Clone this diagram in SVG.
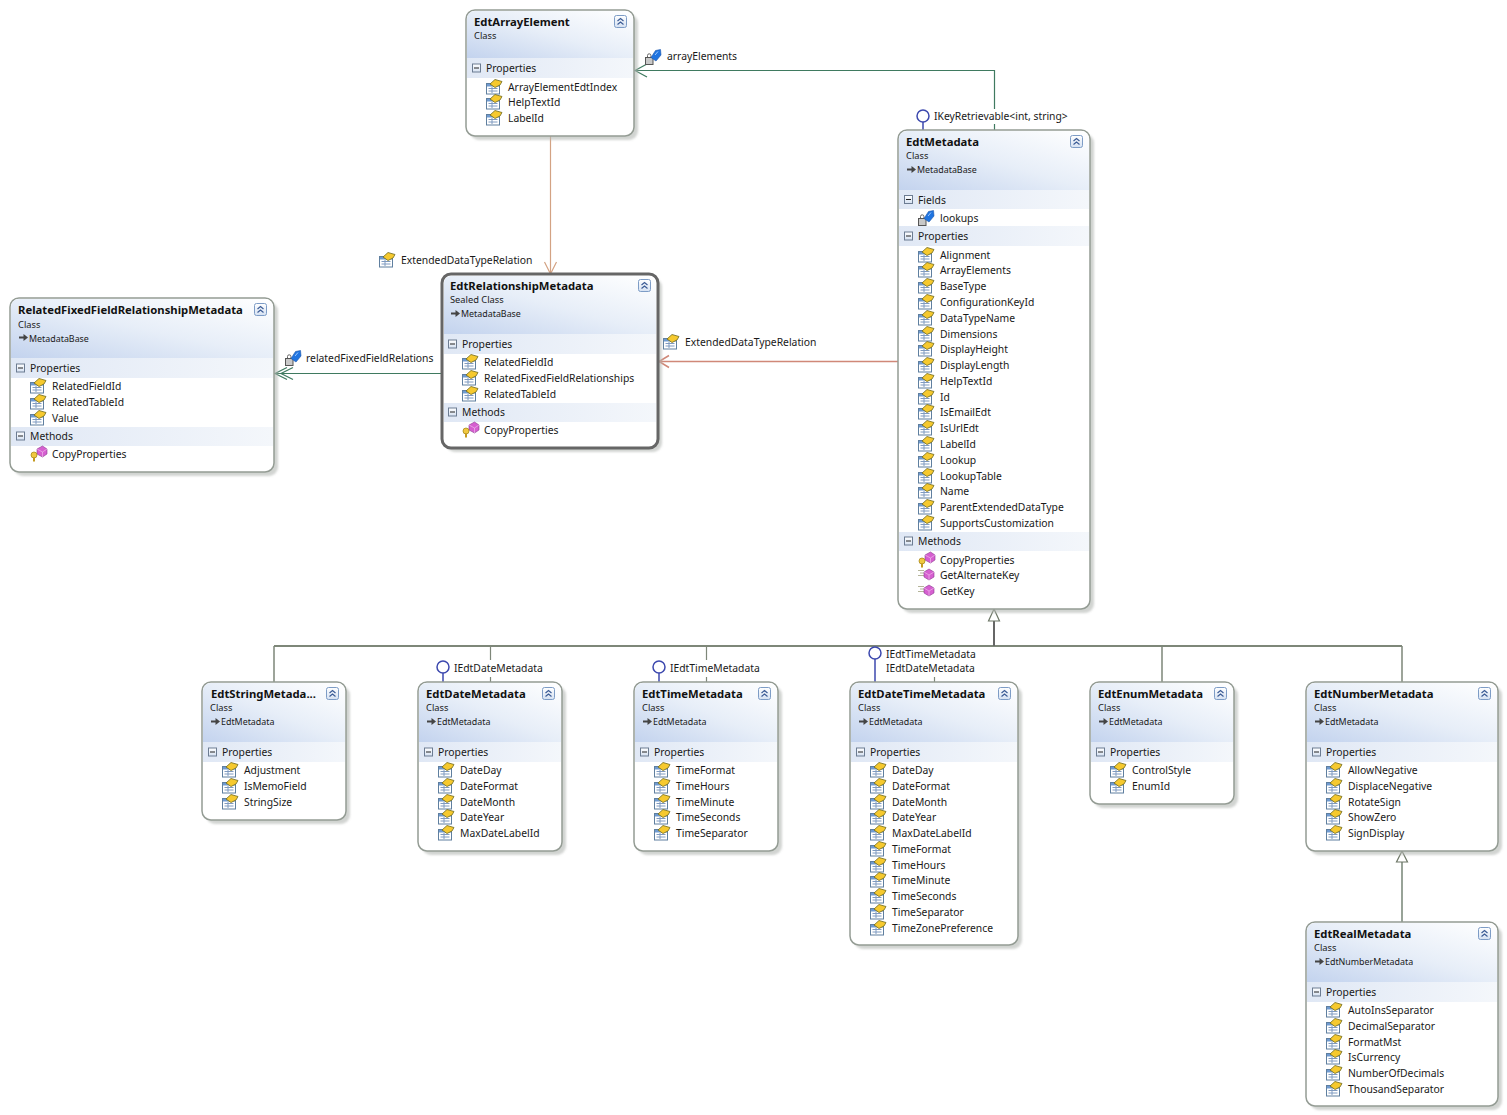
<svg xmlns="http://www.w3.org/2000/svg" width="1507" height="1115" viewBox="0 0 1507 1115">
<style>
text{font-family:"Noto Sans","DejaVu Sans",sans-serif;font-size:10.35px;fill:#1a1a1a}
.t{font-weight:700;font-size:11.3px;fill:#111}
.c{font-size:9.3px;transform:translateX(-1px)}
.b{font-size:8.9px}
.body{fill:#fff;stroke:#949c94;stroke-width:1.5}
.sel{fill:#fff;stroke:#666;stroke-width:3}
.sh{fill:#b4b8b4;opacity:.6;filter:url(#blur)}
.band{fill:url(#bg)}
.con{fill:none;stroke-width:1.2}
.gr{stroke:#3f7a60}.or{stroke:#d3a283}.sa{stroke:#d08878;stroke-width:1.5}.in{stroke:#7e8779}.lp{stroke:#3c48ae;fill:none}
.tri{fill:#fff;stroke:#6d7766;stroke-width:1.2}
</style>
<defs>
<filter id="blur" x="-5%" y="-5%" width="110%" height="110%"><feGaussianBlur stdDeviation="1"/></filter>
<linearGradient id="hg" x1="0" y1="1" x2="1" y2="0"><stop offset="0" stop-color="#c3d3ee"/><stop offset=".5" stop-color="#e7eef8"/><stop offset="1" stop-color="#fff"/></linearGradient>
<linearGradient id="bg" x1="0" y1="0" x2="1" y2="0"><stop offset="0" stop-color="#e0e8f5"/><stop offset="1" stop-color="#f4f7fb"/></linearGradient>
<linearGradient id="gb" x1="0" y1="0" x2="0" y2="1"><stop offset="0" stop-color="#fff"/><stop offset="1" stop-color="#d5e1f2"/></linearGradient>
<g id="p"><rect x=".5" y="4.500" width="13" height="10.500" fill="#fff" stroke="#5f7f9f"/><rect x="1" y="5" width="12" height="2.500" fill="#6f9ad0"/><path d="M2.500 9.500h9M2.500 12h9M6 8v6" stroke="#7f9ac0"/><path d="M4 5 9 .5l7 2-2 3.500-5 2.500z" fill="#f6c92e" stroke="#6f6a20" stroke-width=".8"/></g>
<g id="f"><rect x=".5" y="8.500" width="7.500" height="7" fill="#c8c8c8" stroke="#555"/><path d="M2.500 8V6.500a1.700 1.700 0 0 1 3.400 0V8" fill="none" stroke="#666"/><path d="M6 8.500 10.500 1.500 15.500.5 16 6 11 12z" fill="#1f74e0" stroke="#1c55a8" stroke-width=".6"/><path d="M10 6l3-3.500" stroke="#9cc8ff"/></g>
<g id="k"><path d="M7 3 12.500 0 17 3v5l-4.500 3L7 8z" fill="#d65fd0" stroke="#8a3a90" stroke-width=".6"/><path d="M7 3l5.500 3L17 3M12.500 6v5" fill="none" stroke="#f3c6f0" stroke-width=".6"/><circle cx="4" cy="9" r="3" fill="#f0c840" stroke="#a08010" stroke-width=".7"/><path d="M4 11.500v4" stroke="#c49a20" stroke-width="2"/></g>
<g id="g"><path d="M0 3.500h6M2 6h4M0 8.500h6" stroke="#b5b59a"/><path d="M6 5 11 2l5 3v5l-5 3-5-3z" fill="#d65fd0" stroke="#8a3a90" stroke-width=".6"/><path d="M6 5l5 3 5-3M11 8v5" fill="none" stroke="#f3c6f0" stroke-width=".6"/></g>
<g id="m"><rect x=".5" y=".5" width="8" height="8" fill="url(#gb)" stroke="#6c7c92"/><path d="M2 4.500h5" stroke="#222"/></g>
<g id="cb"><rect x=".5" y=".5" width="12" height="12" rx="2" fill="url(#gb)" stroke="#7d9cc6"/><path d="M3.500 6 6.500 3.500 9.500 6M3.500 9.500 6.500 7 9.500 9.500" fill="none" stroke="#3c5c96" stroke-width="1.200"/></g>
<g id="a"><path d="M0 4.500h5" stroke="#444" stroke-width="2"/><path d="M4.500 1 9 4.500 4.500 8z" fill="#444"/></g>
</defs>
<rect width="1507" height="1115" fill="#fff"/>

<g id="connectors">
<path class="con gr" d="M994.500 130V70.500H635"/>
<path class="con gr" d="M647 64 635 70.500 647 77"/>
<path class="con or" d="M550.500 136V274"/>
<path class="con or" d="M544.500 262 550.500 274 556.500 262"/>
<path class="con sa" d="M898 361.500H659"/>
<path class="con sa" d="M669 355.500 659 361.500 669 367.500"/>
<path class="con gr" d="M442 373.500H275"/>
<path class="con gr" d="M287 367.500 275 373.500 287 379.500M293 367.500 281 373.500 293 379.500"/>
<path class="con in" style="stroke-width:2" d="M274 646H1402"/>
<path class="con in" style="stroke-width:1.500" d="M274 646V682M1402 646V682M1162 646V682"/>
<path class="con in" d="M490.500 646V660M490.500 677V682M706.500 646V660M706.500 677V682M934.500 677V682"/>
<path class="con" style="stroke:#666;stroke-width:2" d="M994 621V646"/>
<path class="con" style="stroke:#98a398;stroke-width:2" d="M1402 862V922"/>
<path class="tri" d="M994 609 988.500 621H999.500Z"/>
<path class="tri" d="M1402 851 1396.500 862H1407.500Z"/>
<circle class="lp" cx="923" cy="116" r="6" stroke-width="1.500"/><path class="lp" stroke-width="1.500" d="M923 122V130"/>
<circle class="lp" cx="443" cy="667" r="6" stroke-width="1.500"/><path class="lp" stroke-width="1.500" d="M443 673V682"/>
<circle class="lp" cx="659" cy="667" r="6" stroke-width="1.500"/><path class="lp" stroke-width="1.500" d="M659 673V682"/>
<circle class="lp" cx="875" cy="653" r="6" stroke-width="1.500"/><path class="lp" stroke-width="1.500" d="M875 659V682"/>
<rect x="932" y="109" width="144" height="15" fill="#fff"/>
</g>

<g id="labels">
<use href="#f" x="645" y="49"/><text x="667" y="60">arrayElements</text>
<use href="#p" x="379" y="252"/><text x="401" y="264">ExtendedDataTypeRelation</text>
<use href="#p" x="663" y="334"/><text x="685" y="346">ExtendedDataTypeRelation</text>
<use href="#f" x="285" y="350"/><text x="306" y="362">relatedFixedFieldRelations</text>
<text x="934" y="120">IKeyRetrievable&lt;int, string&gt;</text>
<text x="454" y="672">IEdtDateMetadata</text>
<text x="670" y="672">IEdtTimeMetadata</text>
<text x="886" y="658">IEdtTimeMetadata</text>
<text x="886" y="672">IEdtDateMetadata</text>
</g>

<g id="EdtArrayElement" transform="translate(466,0)">
<rect class="sh" x="4" y="14" width="168" height="126" rx="9"/>
<rect class="body" y="10" width="168" height="126" rx="9"/>
<path d="M1 58V19a8 8 0 0 1 8-8H159a8 8 0 0 1 8 8V58Z" fill="url(#hg)"/>
<rect class="band" x="1" y="58" width="166" height="20"/>
<use href="#cb" x="148" y="15"/>
<text class="t" x="8" y="26">EdtArrayElement</text><text class="c" x="9" y="39">Class</text>
<use href="#m" x="6" y="63.500"/><text x="20" y="72">Properties</text>
<use href="#p" x="20" y="79"/><text x="42" y="91">ArrayElementEdtIndex</text>
<use href="#p" x="20" y="94"/><text x="42" y="106">HelpTextId</text>
<use href="#p" x="20" y="110"/><text x="42" y="122">LabelId</text>
</g>

<g id="RelatedFixedFieldRelationshipMetadata" transform="translate(10,0)">
<rect class="sh" x="4" y="302" width="264" height="174" rx="9"/>
<rect class="body" y="298" width="264" height="174" rx="9"/>
<path d="M1 358V307a8 8 0 0 1 8-8H255a8 8 0 0 1 8 8V358Z" fill="url(#hg)"/>
<rect class="band" x="1" y="358" width="262" height="20"/>
<rect class="band" x="1" y="427" width="262" height="19"/>
<use href="#cb" x="244" y="303"/>
<text class="t" x="8" y="314">RelatedFixedFieldRelationshipMetadata</text><text class="c" x="9" y="328">Class</text>
<use href="#a" x="9" y="333"/><text class="b" x="19" y="342">MetadataBase</text>
<use href="#m" x="6" y="363.500"/><text x="20" y="372">Properties</text>
<use href="#p" x="20" y="378"/><text x="42" y="390">RelatedFieldId</text>
<use href="#p" x="20" y="394"/><text x="42" y="406">RelatedTableId</text>
<use href="#p" x="20" y="410"/><text x="42" y="422">Value</text>
<use href="#m" x="6" y="431.500"/><text x="20" y="440">Methods</text>
<use href="#k" x="20" y="446"/><text x="42" y="458">CopyProperties</text>
</g>

<g id="EdtRelationshipMetadata" transform="translate(442,0)">
<rect class="sh" x="4" y="278" width="216" height="174" rx="9"/>
<rect class="sel" y="274" width="216" height="174" rx="9"/>
<path d="M2 334V283a7 7 0 0 1 7-7H207a7 7 0 0 1 7 7V334Z" fill="url(#hg)"/>
<rect class="band" x="2" y="334" width="212" height="20"/>
<rect class="band" x="2" y="403" width="212" height="19"/>
<use href="#cb" x="196" y="279"/>
<text class="t" x="8" y="290">EdtRelationshipMetadata</text><text class="c" x="9" y="303">Sealed Class</text>
<use href="#a" x="9" y="309"/><text class="b" x="19" y="317">MetadataBase</text>
<use href="#m" x="6" y="339.500"/><text x="20" y="348">Properties</text>
<use href="#p" x="20" y="354"/><text x="42" y="366">RelatedFieldId</text>
<use href="#p" x="20" y="370"/><text x="42" y="382">RelatedFixedFieldRelationships</text>
<use href="#p" x="20" y="386"/><text x="42" y="398">RelatedTableId</text>
<use href="#m" x="6" y="407.500"/><text x="20" y="416">Methods</text>
<use href="#k" x="20" y="422"/><text x="42" y="434">CopyProperties</text>
</g>

<g id="EdtMetadata" transform="translate(898,0)">
<rect class="sh" x="4" y="134" width="192" height="479" rx="9"/>
<rect class="body" y="130" width="192" height="479" rx="9"/>
<path d="M1 190V139a8 8 0 0 1 8-8H183a8 8 0 0 1 8 8V190Z" fill="url(#hg)"/>
<rect class="band" x="1" y="190" width="190" height="19"/>
<rect class="band" x="1" y="226" width="190" height="20"/>
<rect class="band" x="1" y="532" width="190" height="19"/>
<use href="#cb" x="172" y="135"/>
<text class="t" x="8" y="146">EdtMetadata</text><text class="c" x="9" y="159">Class</text>
<use href="#a" x="9" y="165"/><text class="b" x="19" y="173">MetadataBase</text>
<use href="#m" x="6" y="195"/><text x="20" y="204">Fields</text>
<use href="#f" x="20" y="210"/><text x="42" y="222">lookups</text>
<use href="#m" x="6" y="231.500"/><text x="20" y="240">Properties</text>
<use href="#p" x="20" y="247"/><text x="42" y="259">Alignment</text>
<use href="#p" x="20" y="262"/><text x="42" y="274">ArrayElements</text>
<use href="#p" x="20" y="278"/><text x="42" y="290">BaseType</text>
<use href="#p" x="20" y="294"/><text x="42" y="306">ConfigurationKeyId</text>
<use href="#p" x="20" y="310"/><text x="42" y="322">DataTypeName</text>
<use href="#p" x="20" y="326"/><text x="42" y="338">Dimensions</text>
<use href="#p" x="20" y="341"/><text x="42" y="353">DisplayHeight</text>
<use href="#p" x="20" y="357"/><text x="42" y="369">DisplayLength</text>
<use href="#p" x="20" y="373"/><text x="42" y="385">HelpTextId</text>
<use href="#p" x="20" y="389"/><text x="42" y="401">Id</text>
<use href="#p" x="20" y="404"/><text x="42" y="416">IsEmailEdt</text>
<use href="#p" x="20" y="420"/><text x="42" y="432">IsUrlEdt</text>
<use href="#p" x="20" y="436"/><text x="42" y="448">LabelId</text>
<use href="#p" x="20" y="452"/><text x="42" y="464">Lookup</text>
<use href="#p" x="20" y="468"/><text x="42" y="480">LookupTable</text>
<use href="#p" x="20" y="483"/><text x="42" y="495">Name</text>
<use href="#p" x="20" y="499"/><text x="42" y="511">ParentExtendedDataType</text>
<use href="#p" x="20" y="515"/><text x="42" y="527">SupportsCustomization</text>
<use href="#m" x="6" y="536.500"/><text x="20" y="545">Methods</text>
<use href="#k" x="20" y="552"/><text x="42" y="564">CopyProperties</text>
<use href="#g" x="20" y="567"/><text x="42" y="579">GetAlternateKey</text>
<use href="#g" x="20" y="583"/><text x="42" y="595">GetKey</text>
</g>

<g id="EdtStringMetadata" transform="translate(202,0)">
<rect class="sh" x="4" y="686" width="144" height="138" rx="9"/>
<rect class="body" y="682" width="144" height="138" rx="9"/>
<path d="M1 742V691a8 8 0 0 1 8-8H135a8 8 0 0 1 8 8V742Z" fill="url(#hg)"/>
<rect class="band" x="1" y="742" width="142" height="20"/>
<use href="#cb" x="124" y="687"/>
<text class="t" x="9" y="698">EdtStringMetada...</text><text class="c" x="9" y="711">Class</text>
<use href="#a" x="9" y="717"/><text class="b" x="19" y="725">EdtMetadata</text>
<use href="#m" x="6" y="747.500"/><text x="20" y="756">Properties</text>
<use href="#p" x="20" y="762"/><text x="42" y="774">Adjustment</text>
<use href="#p" x="20" y="778"/><text x="42" y="790">IsMemoField</text>
<use href="#p" x="20" y="794"/><text x="42" y="806">StringSize</text>
</g>

<g id="EdtDateMetadata" transform="translate(418,0)">
<rect class="sh" x="4" y="686" width="144" height="169" rx="9"/>
<rect class="body" y="682" width="144" height="169" rx="9"/>
<path d="M1 742V691a8 8 0 0 1 8-8H135a8 8 0 0 1 8 8V742Z" fill="url(#hg)"/>
<rect class="band" x="1" y="742" width="142" height="20"/>
<use href="#cb" x="124" y="687"/>
<text class="t" x="8" y="698">EdtDateMetadata</text><text class="c" x="9" y="711">Class</text>
<use href="#a" x="9" y="717"/><text class="b" x="19" y="725">EdtMetadata</text>
<use href="#m" x="6" y="747.500"/><text x="20" y="756">Properties</text>
<use href="#p" x="20" y="762"/><text x="42" y="774">DateDay</text>
<use href="#p" x="20" y="778"/><text x="42" y="790">DateFormat</text>
<use href="#p" x="20" y="794"/><text x="42" y="806">DateMonth</text>
<use href="#p" x="20" y="809"/><text x="42" y="821">DateYear</text>
<use href="#p" x="20" y="825"/><text x="42" y="837">MaxDateLabelId</text>
</g>

<g id="EdtTimeMetadata" transform="translate(634,0)">
<rect class="sh" x="4" y="686" width="144" height="169" rx="9"/>
<rect class="body" y="682" width="144" height="169" rx="9"/>
<path d="M1 742V691a8 8 0 0 1 8-8H135a8 8 0 0 1 8 8V742Z" fill="url(#hg)"/>
<rect class="band" x="1" y="742" width="142" height="20"/>
<use href="#cb" x="124" y="687"/>
<text class="t" x="8" y="698">EdtTimeMetadata</text><text class="c" x="9" y="711">Class</text>
<use href="#a" x="9" y="717"/><text class="b" x="19" y="725">EdtMetadata</text>
<use href="#m" x="6" y="747.500"/><text x="20" y="756">Properties</text>
<use href="#p" x="20" y="762"/><text x="42" y="774">TimeFormat</text>
<use href="#p" x="20" y="778"/><text x="42" y="790">TimeHours</text>
<use href="#p" x="20" y="794"/><text x="42" y="806">TimeMinute</text>
<use href="#p" x="20" y="809"/><text x="42" y="821">TimeSeconds</text>
<use href="#p" x="20" y="825"/><text x="42" y="837">TimeSeparator</text>
</g>

<g id="EdtDateTimeMetadata" transform="translate(850,0)">
<rect class="sh" x="4" y="686" width="168" height="263" rx="9"/>
<rect class="body" y="682" width="168" height="263" rx="9"/>
<path d="M1 742V691a8 8 0 0 1 8-8H159a8 8 0 0 1 8 8V742Z" fill="url(#hg)"/>
<rect class="band" x="1" y="742" width="166" height="20"/>
<use href="#cb" x="148" y="687"/>
<text class="t" x="8" y="698">EdtDateTimeMetadata</text><text class="c" x="9" y="711">Class</text>
<use href="#a" x="9" y="717"/><text class="b" x="19" y="725">EdtMetadata</text>
<use href="#m" x="6" y="747.500"/><text x="20" y="756">Properties</text>
<use href="#p" x="20" y="762"/><text x="42" y="774">DateDay</text>
<use href="#p" x="20" y="778"/><text x="42" y="790">DateFormat</text>
<use href="#p" x="20" y="794"/><text x="42" y="806">DateMonth</text>
<use href="#p" x="20" y="809"/><text x="42" y="821">DateYear</text>
<use href="#p" x="20" y="825"/><text x="42" y="837">MaxDateLabelId</text>
<use href="#p" x="20" y="841"/><text x="42" y="853">TimeFormat</text>
<use href="#p" x="20" y="857"/><text x="42" y="869">TimeHours</text>
<use href="#p" x="20" y="872"/><text x="42" y="884">TimeMinute</text>
<use href="#p" x="20" y="888"/><text x="42" y="900">TimeSeconds</text>
<use href="#p" x="20" y="904"/><text x="42" y="916">TimeSeparator</text>
<use href="#p" x="20" y="920"/><text x="42" y="932">TimeZonePreference</text>
</g>

<g id="EdtEnumMetadata" transform="translate(1090,0)">
<rect class="sh" x="4" y="686" width="144" height="122" rx="9"/>
<rect class="body" y="682" width="144" height="122" rx="9"/>
<path d="M1 742V691a8 8 0 0 1 8-8H135a8 8 0 0 1 8 8V742Z" fill="url(#hg)"/>
<rect class="band" x="1" y="742" width="142" height="20"/>
<use href="#cb" x="124" y="687"/>
<text class="t" x="8" y="698">EdtEnumMetadata</text><text class="c" x="9" y="711">Class</text>
<use href="#a" x="9" y="717"/><text class="b" x="19" y="725">EdtMetadata</text>
<use href="#m" x="6" y="747.500"/><text x="20" y="756">Properties</text>
<use href="#p" x="20" y="762"/><text x="42" y="774">ControlStyle</text>
<use href="#p" x="20" y="778"/><text x="42" y="790">EnumId</text>
</g>

<g id="EdtNumberMetadata" transform="translate(1306,0)">
<rect class="sh" x="4" y="686" width="192" height="169" rx="9"/>
<rect class="body" y="682" width="192" height="169" rx="9"/>
<path d="M1 742V691a8 8 0 0 1 8-8H183a8 8 0 0 1 8 8V742Z" fill="url(#hg)"/>
<rect class="band" x="1" y="742" width="190" height="20"/>
<use href="#cb" x="172" y="687"/>
<text class="t" x="8" y="698">EdtNumberMetadata</text><text class="c" x="9" y="711">Class</text>
<use href="#a" x="9" y="717"/><text class="b" x="19" y="725">EdtMetadata</text>
<use href="#m" x="6" y="747.500"/><text x="20" y="756">Properties</text>
<use href="#p" x="20" y="762"/><text x="42" y="774">AllowNegative</text>
<use href="#p" x="20" y="778"/><text x="42" y="790">DisplaceNegative</text>
<use href="#p" x="20" y="794"/><text x="42" y="806">RotateSign</text>
<use href="#p" x="20" y="809"/><text x="42" y="821">ShowZero</text>
<use href="#p" x="20" y="825"/><text x="42" y="837">SignDisplay</text>
</g>

<g id="EdtRealMetadata" transform="translate(1306,0)">
<rect class="sh" x="4" y="926" width="192" height="184" rx="9"/>
<rect class="body" y="922" width="192" height="184" rx="9"/>
<path d="M1 982V931a8 8 0 0 1 8-8H183a8 8 0 0 1 8 8V982Z" fill="url(#hg)"/>
<rect class="band" x="1" y="982" width="190" height="20"/>
<use href="#cb" x="172" y="927"/>
<text class="t" x="8" y="938">EdtRealMetadata</text><text class="c" x="9" y="951">Class</text>
<use href="#a" x="9" y="957"/><text class="b" x="19" y="965">EdtNumberMetadata</text>
<use href="#m" x="6" y="987.500"/><text x="20" y="996">Properties</text>
<use href="#p" x="20" y="1002"/><text x="42" y="1014">AutoInsSeparator</text>
<use href="#p" x="20" y="1018"/><text x="42" y="1030">DecimalSeparator</text>
<use href="#p" x="20" y="1034"/><text x="42" y="1046">FormatMst</text>
<use href="#p" x="20" y="1049"/><text x="42" y="1061">IsCurrency</text>
<use href="#p" x="20" y="1065"/><text x="42" y="1077">NumberOfDecimals</text>
<use href="#p" x="20" y="1081"/><text x="42" y="1093">ThousandSeparator</text>
</g>
</svg>
